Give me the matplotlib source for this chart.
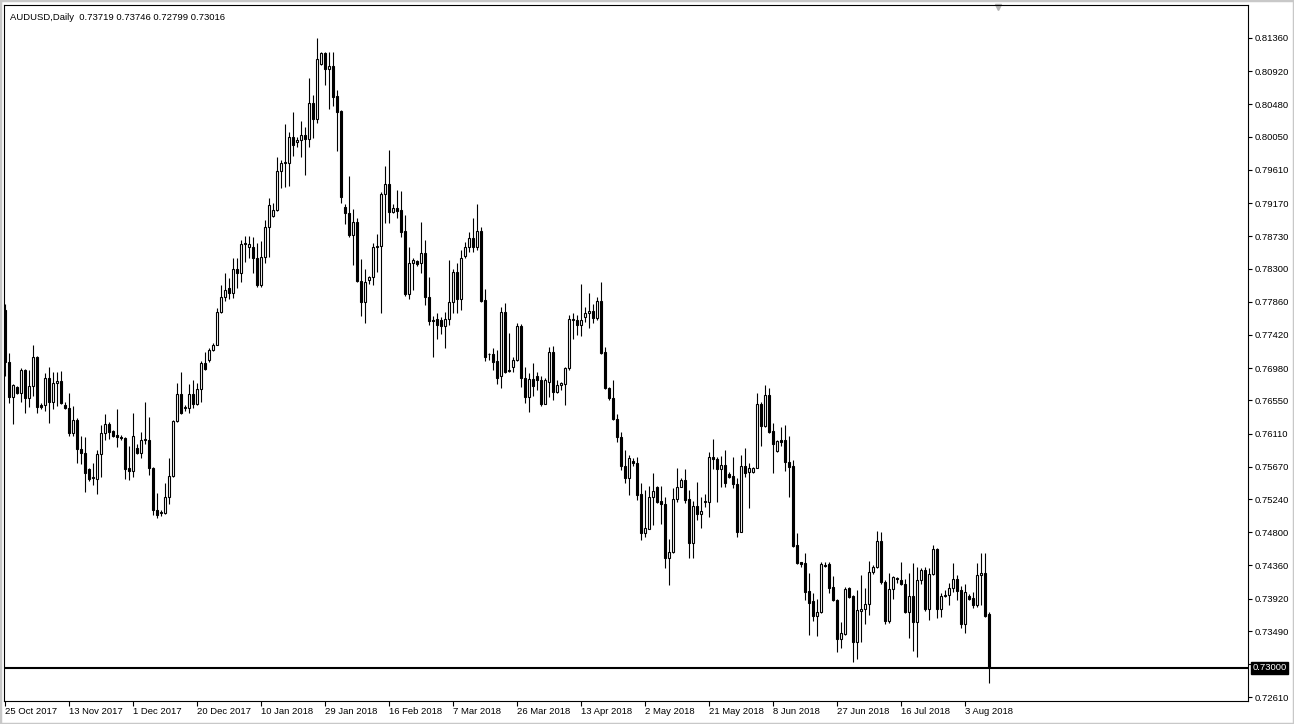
# AUDUSD daily candles, MetaTrader-style chart
import numpy as np
import matplotlib.pyplot as plt
from matplotlib.patches import Rectangle
from matplotlib.transforms import blended_transform_factory

plt.rcParams['font.family'] = ['Liberation Sans', 'DejaVu Sans']

symbol = "AUDUSD,Daily"

# OHLC values, one per daily bar (25 Oct 2017 -> 10 Aug 2018)
opens = [
    .7775, .7706, .7660, .7673, .7665, .7695, .7658, .7674, .7713, .7649,
    .7649, .7685, .7653, .7678, .7681, .7649, .7645, .7612, .7629, .7591,
    .7585, .7564, .7552, .7551, .7584, .7612, .7624, .7614, .7609, .7606,
    .7605, .7566, .7561, .7592, .7585, .7603, .7603, .7566, .7510, .7506,
    .7506, .7527, .7555, .7628, .7664, .7645, .7645, .7664, .7650, .7670,
    .7705, .7709, .7722, .7729, .7772, .7792, .7804, .7798, .7830, .7824,
    .7863, .7858, .7859, .7844, .7808, .7845, .7885, .7900, .7908, .7960,
    .7970, .7970, .8005, .7998, .8001, .8007, .8002, .8050, .8028, .8102,
    .8116, .8095, .8099, .8059, .8039, .7912, .7904, .7875, .7892, .7813,
    .7786, .7815, .7819, .7858, .7860, .7929, .7942, .7905, .7910, .7908,
    .7880, .7796, .7837, .7840, .7837, .7850, .7792, .7762, .7763, .7762,
    .7754, .7763, .7785, .7826, .7790, .7847, .7859, .7871, .7859, .7880,
    .7788, .7716, .7717, .7707, .7688, .7772, .7694, .7699, .7709, .7754,
    .7685, .7660, .7684, .7688, .7682, .7650, .7679, .7719, .7666, .7676,
    .7677, .7698, .7762, .7762, .7755, .7766, .7771, .7774, .7764, .7787,
    .7719, .7671, .7658, .7630, .7606, .7568, .7552, .7575, .7572, .7531,
    .7479, .7484, .7527, .7540, .7521, .7518, .7446, .7454, .7524, .7540,
    .7550, .7524, .7466, .7515, .7504, .7520, .7520, .7580, .7577, .7564,
    .7569, .7557, .7555, .7544, .7480, .7568, .7560, .7560, .7566, .7650,
    .7621, .7662, .7614, .7588, .7603, .7603, .7573, .7568, .7463, .7441,
    .7439, .7402, .7389, .7369, .7374, .7437, .7438, .7408, .7390, .7338,
    .7345, .7406, .7395, .7334, .7376, .7378, .7385, .7427, .7434, .7468,
    .7414, .7362, .7405, .7419, .7417, .7412, .7374, .7395, .7361, .7417,
    .7430, .7378, .7425, .7458, .7378, .7396, .7397, .7406, .7418, .7404,
    .7358, .7396, .7393, .7384, .7424, .7426, .73719,
]
highs = [
    .7783, .7718, .7677, .7674, .7698, .7697, .7695, .7729, .7714, .7652,
    .7691, .7699, .7693, .7693, .7694, .7653, .7665, .7648, .7632, .7608,
    .7606, .7566, .7572, .7589, .7623, .7637, .7627, .7616, .7644, .7609,
    .7606, .7594, .7638, .7597, .7613, .7653, .7633, .7567, .7532, .7510,
    .7545, .7579, .7629, .7678, .7693, .7649, .7677, .7682, .7678, .7707,
    .7719, .7725, .7731, .7778, .7808, .7824, .7817, .7844, .7844, .7868,
    .7873, .7873, .7872, .7864, .7867, .7894, .7924, .7917, .7978, .7974,
    .8022, .8011, .8038, .8005, .8026, .8018, .8083, .8060, .8136, .8117,
    .8117, .8117, .8117, .8067, .8040, .7916, .7953, .7909, .7897, .7843,
    .7830, .7820, .7864, .7876, .7932, .7966, .7987, .7916, .7934, .7933,
    .7901, .7859, .7844, .7841, .7892, .7868, .7819, .7767, .7771, .7766,
    .7772, .7841, .7830, .7837, .7854, .7865, .7879, .7897, .7916, .7885,
    .7803, .7718, .7725, .7722, .7779, .7784, .7745, .7712, .7758, .7756,
    .7699, .7691, .7705, .7693, .7688, .7685, .7726, .7727, .7682, .7680,
    .7699, .7768, .7771, .7768, .7810, .7779, .7798, .7783, .7792, .7812,
    .7726, .7673, .7682, .7637, .7613, .7589, .7583, .7579, .7580, .7545,
    .7536, .7541, .7559, .7541, .7541, .7527, .7471, .7539, .7566, .7552,
    .7564, .7536, .7522, .7547, .7527, .7531, .7587, .7604, .7580, .7581,
    .7589, .7560, .7580, .7552, .7583, .7592, .7572, .7567, .7665, .7653,
    .7676, .7672, .7625, .7603, .7620, .7623, .7608, .7576, .7479, .7441,
    .7453, .7426, .7400, .7392, .7441, .7441, .7440, .7422, .7391, .7361,
    .7408, .7408, .7397, .7403, .7424, .7406, .7442, .7437, .7482, .7480,
    .7417, .7426, .7422, .7421, .7441, .7418, .7426, .7439, .7434, .7433,
    .7434, .7433, .7463, .7459, .7400, .7404, .7413, .7439, .7424, .7409,
    .7412, .7398, .7401, .7439, .7453, .7453, .73746,
]
lows = [
    .7687, .7652, .7624, .7664, .7653, .7638, .7646, .7661, .7638, .7644,
    .7641, .7625, .7644, .7648, .7650, .7644, .7608, .7608, .7572, .7571,
    .7534, .7548, .7543, .7531, .7553, .7602, .7604, .7606, .7593, .7602,
    .7551, .7549, .7553, .7584, .7579, .7597, .7556, .7503, .7499, .7502,
    .7504, .7518, .7553, .7627, .7637, .7641, .7638, .7645, .7649, .7653,
    .7696, .7706, .7721, .7728, .7771, .7787, .7790, .7791, .7804, .7812,
    .7839, .7844, .7824, .7806, .7806, .7837, .7845, .7899, .7906, .7937,
    .7938, .7940, .7979, .7991, .7978, .7954, .7991, .8003, .8023, .8100,
    .8074, .8042, .8046, .7986, .7917, .7889, .7872, .7835, .7812, .7767,
    .7758, .7810, .7808, .7826, .7771, .7890, .7890, .7904, .7897, .7872,
    .7794, .7790, .7802, .7833, .7824, .7782, .7755, .7712, .7737, .7743,
    .7725, .7755, .7771, .7771, .7775, .7844, .7852, .7852, .7855, .7786,
    .7707, .7709, .7695, .7677, .7672, .7691, .7693, .7693, .7707, .7673,
    .7652, .7640, .7661, .7669, .7648, .7650, .7660, .7656, .7665, .7669,
    .7649, .7696, .7737, .7742, .7740, .7759, .7751, .7758, .7762, .7717,
    .7670, .7656, .7629, .7600, .7563, .7545, .7530, .7568, .7523, .7470,
    .7474, .7484, .7490, .7519, .7491, .7433, .7410, .7453, .7520, .7540,
    .7519, .7446, .7446, .7497, .7486, .7514, .7501, .7564, .7520, .7540,
    .7540, .7552, .7539, .7474, .7480, .7553, .7512, .7559, .7565, .7594,
    .7620, .7612, .7559, .7586, .7594, .7561, .7527, .7460, .7438, .7434,
    .7390, .7344, .7362, .7342, .7373, .7434, .7400, .7389, .7321, .7327,
    .7344, .7393, .7308, .7312, .7334, .7358, .7370, .7425, .7433, .7412,
    .7358, .7360, .7392, .7413, .7410, .7373, .7340, .7323, .7315, .7412,
    .7376, .7364, .7424, .7366, .7368, .7394, .7384, .7401, .7390, .7353,
    .7346, .7390, .7380, .7381, .7384, .7368, .72799,
]
closes = [
    .7706, .7660, .7676, .7665, .7695, .7658, .7674, .7713, .7646, .7646,
    .7685, .7653, .7678, .7681, .7652, .7645, .7612, .7629, .7591, .7585,
    .7559, .7551, .7553, .7584, .7612, .7624, .7613, .7608, .7606, .7605,
    .7564, .7561, .7608, .7585, .7603, .7604, .7566, .7510, .7503, .7507,
    .7527, .7555, .7628, .7664, .7638, .7646, .7664, .7650, .7670, .7705,
    .7697, .7722, .7729, .7772, .7792, .7802, .7798, .7830, .7824, .7863,
    .7864, .7862, .7844, .7808, .7845, .7885, .7914, .7908, .7960, .7970,
    .7971, .8005, .7994, .8001, .8007, .8002, .8050, .8028, .8108, .8116,
    .8095, .8099, .8058, .8038, .7925, .7904, .7875, .7892, .7813, .7786,
    .7812, .7819, .7858, .7860, .7929, .7942, .7905, .7910, .7906, .7879,
    .7796, .7837, .7841, .7836, .7850, .7792, .7760, .7761, .7755, .7754,
    .7763, .7785, .7826, .7790, .7844, .7859, .7871, .7859, .7880, .7787,
    .7712, .7717, .7706, .7685, .7772, .7693, .7695, .7709, .7754, .7685,
    .7660, .7684, .7674, .7682, .7650, .7682, .7719, .7666, .7676, .7678,
    .7698, .7763, .7763, .7755, .7762, .7771, .7774, .7764, .7787, .7718,
    .7671, .7658, .7630, .7606, .7568, .7552, .7579, .7572, .7530, .7479,
    .7486, .7527, .7535, .7520, .7518, .7446, .7454, .7524, .7540, .7550,
    .7523, .7466, .7515, .7504, .7508, .7521, .7580, .7577, .7564, .7569,
    .7545, .7553, .7544, .7480, .7568, .7559, .7566, .7566, .7650, .7621,
    .7662, .7613, .7597, .7601, .7600, .7573, .7567, .7462, .7439, .7438,
    .7401, .7386, .7369, .7374, .7438, .7435, .7406, .7390, .7338, .7346,
    .7405, .7394, .7334, .7377, .7378, .7385, .7427, .7434, .7468, .7414,
    .7362, .7405, .7421, .7418, .7412, .7374, .7395, .7361, .7417, .7430,
    .7378, .7425, .7458, .7378, .7395, .7397, .7406, .7418, .7402, .7358,
    .7401, .7392, .7384, .7424, .7426, .7369, .73016,
]

# date labels, one every 16 bars
date_labels = ["25 Oct 2017", "13 Nov 2017", "1 Dec 2017", "20 Dec 2017",
               "10 Jan 2018", "29 Jan 2018", "16 Feb 2018", "7 Mar 2018",
               "26 Mar 2018", "13 Apr 2018", "2 May 2018", "21 May 2018",
               "8 Jun 2018", "27 Jun 2018", "16 Jul 2018", "3 Aug 2018"]
label_step = 16

price_ticks = [0.81360, 0.80920, 0.80480, 0.80050, 0.79610, 0.79170, 0.78730,
               0.78300, 0.77860, 0.77420, 0.76980, 0.76550, 0.76110, 0.75670,
               0.75240, 0.74800, 0.74360, 0.73920, 0.73490, 0.73050, 0.72610]
level = 0.73000

o = np.array(opens)
h = np.array(highs)
l = np.array(lows)
c = np.array(closes)
x = np.arange(len(o))

W, H = 1294, 724
fig = plt.figure(figsize=(W / 100, H / 100), dpi=100)
fig.patch.set_facecolor('white')
ax = fig.add_axes([4 / W, (H - 701) / H, (1248 - 4) / W, (701 - 4.5) / H])

# wicks then bodies
ax.vlines(x, l, h, color='black', linewidth=0.8, zorder=2)
bull = c >= o
face = np.where(bull, 'white', 'black')
ax.bar(x, np.abs(c - o), bottom=np.minimum(o, c), width=0.5,
       color=face, edgecolor='black', linewidth=0.8, zorder=3)

# horizontal level line
ax.axhline(level, color='black', linewidth=1.5, zorder=1)

ax.set_xlim(-0.25, 310.75)
ax.set_ylim(0.72562, 0.81804)

for s in ax.spines.values():
    s.set_color('black')
    s.set_linewidth(0.8)

fs = 6.8
ax.yaxis.tick_right()
ax.set_yticks(price_ticks)
# the tick right next to the level is covered by the level's label box
ax.set_yticklabels(["" if abs(v - level) < 0.0006 else "%.5f" % v for v in price_ticks])
ax.tick_params(axis='y', direction='out', length=3, width=0.8, pad=2,
               labelsize=fs, colors='black')

ax.set_xticks(np.arange(len(date_labels)) * label_step)
ax.set_xticklabels(date_labels, ha='left')
ax.tick_params(axis='x', direction='out', length=3.5, width=0.8, pad=1,
               labelsize=fs, colors='black')

# highlighted level label on the price scale
tr = blended_transform_factory(ax.transAxes, ax.transData)
ax.text(1.0035, level, "%.5f" % level, transform=tr, color='white',
        fontsize=fs, va='center', ha='left', zorder=10,
        bbox=dict(boxstyle='square,pad=0.15', fc='black', ec='black'))

# header
ax.text(0.005, 0.988, "%s  %.5f %.5f %.5f %.5f" % (symbol, o[-1], h[-1], l[-1], c[-1]),
        transform=ax.transAxes, fontsize=fs, va='top', ha='left', color='black')

# chart shift marker
tr2 = blended_transform_factory(ax.transData, ax.transAxes)
ax.plot([248.25], [0.996], marker='v', color='#b4b4b4', markersize=5,
        transform=tr2, clip_on=False)

# window border
fig.patches.append(Rectangle((0, 0), 1, 1, transform=fig.transFigure, fill=False,
                             edgecolor='#c8c8c8', linewidth=2.5))

fig.savefig("out.png", dpi=100)
